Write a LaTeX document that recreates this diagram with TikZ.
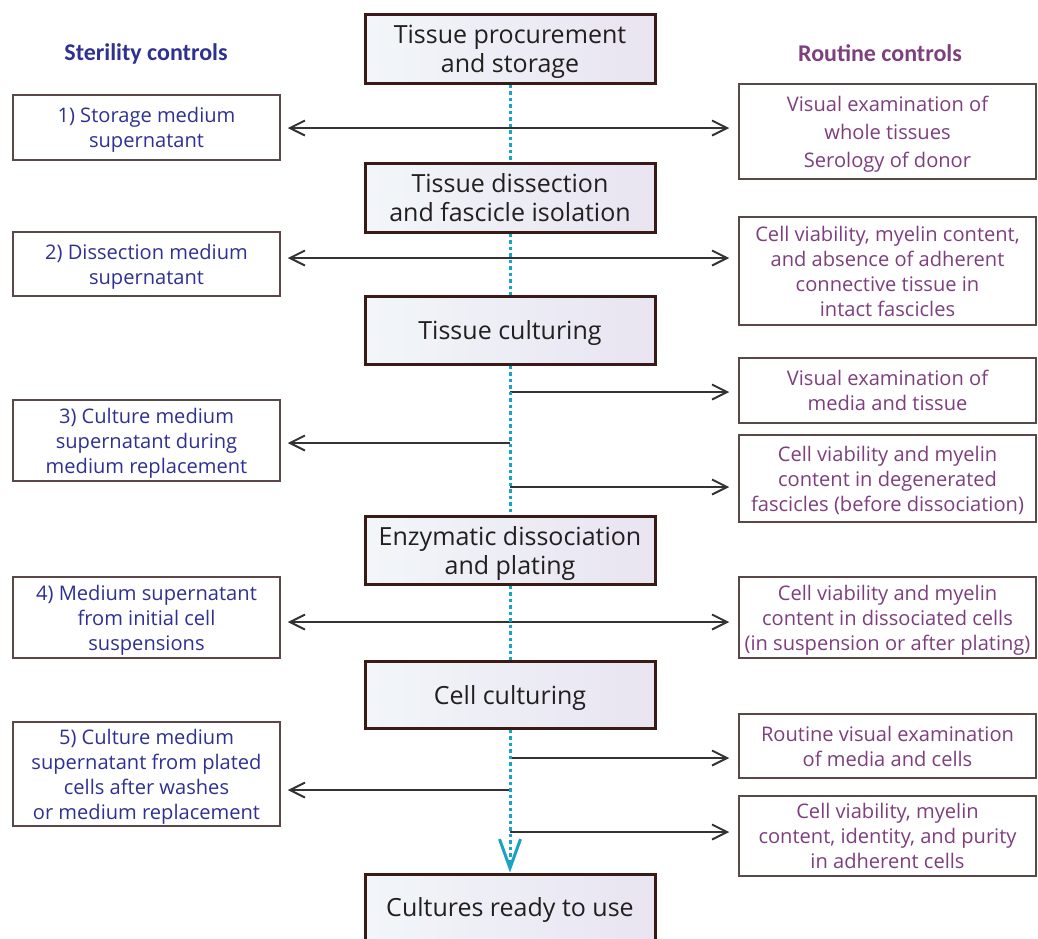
\documentclass[tikz,border=0pt]{standalone}
\usepackage{fontspec}
\setmainfont{Open Sans}
\newfontfamily\headfont{Carlito}
\usetikzlibrary{arrows.meta,positioning}
\definecolor{stageline}{HTML}{3A1A14}
\definecolor{stagetext}{HTML}{231F20}
\definecolor{boxline}{HTML}{5A4848}
\definecolor{sterblue}{HTML}{2E3192}
\definecolor{routpurple}{HTML}{7D3F7D}
\definecolor{arrowgray}{HTML}{333333}
\definecolor{spinecyan}{HTML}{1BA3C6}
\definecolor{shadeleft}{HTML}{F2F6F9}
\definecolor{shaderight}{HTML}{E8E4F1}
\tikzset{
  stagebox/.style={
    rectangle, draw=stageline, line width=3pt,
    left color=shadeleft, middle color=white, right color=shaderight,
    minimum width=290pt, inner sep=2pt, align=center, text depth=0pt,
    text=stagetext, font=\fontsize{25}{29}\selectfont
  },
  sterbox/.style={
    rectangle, draw=boxline, line width=1.5pt, fill=white,
    minimum width=267pt, inner sep=2pt, align=center, text depth=0pt,
    text=sterblue, font=\fontsize{20.1}{25}\selectfont
  },
  routbox/.style={sterbox, minimum width=297pt, text=routpurple},
  headlbl/.style={font=\headfont\bfseries\fontsize{24}{28}\selectfont},
  ctlarrow/.style={-{Straight Barb[length=15pt,width=15pt]}, line width=2pt,
    draw=arrowgray, shorten >=9pt},
  dblarrow/.style={ctlarrow, {Straight Barb[length=15pt,width=15pt]}-{Straight Barb[length=15pt,width=15pt]},
    shorten <=7pt},
  spine/.style={draw=spinecyan, line width=3pt, dash pattern=on 3.5pt off 3pt},
}
\begin{document}
\begin{tikzpicture}[x=1pt, y=-1pt]
  \useasboundingbox (0,0) rectangle (1038,938);

  % column headings
  \node (sterhead) [headlbl, text=sterblue] at (146,54) {Sterility controls};
  \node (routhead) [headlbl, text=routpurple] at (880,53) {Routine controls};

  % processing stages
  \node (proc) [stagebox, minimum height=69pt] at (510,48.5) {Tissue procurement\\and storage};
  \node (dissect) [stagebox, minimum height=69pt] at (510,197.5) {Tissue dissection\\and fascicle isolation};
  \node (tculture) [stagebox, minimum height=68pt] at (510,330) {Tissue culturing};
  \node (enzym) [stagebox, minimum height=68pt] at (510,550) {Enzymatic dissociation\\and plating};
  \node (cculture) [stagebox, minimum height=67pt] at (510,694.5) {Cell culturing};
  \node (ready) [stagebox, minimum height=66pt] at (510,907) {Cultures ready to use};

  % sterility controls
  \node (st1) [sterbox, minimum height=65pt] at (146.5,127.5) {1) Storage medium\\supernatant};
  \node (st2) [sterbox, minimum height=64pt] at (146.5,264) {2) Dissection medium\\supernatant};
  \node (st3) [sterbox, minimum height=81pt] at (146.5,440.5) {3) Culture medium\\supernatant during\\medium replacement};
  \node (st4) [sterbox, minimum height=81pt] at (146.5,617.5) {4) Medium supernatant\\from initial cell\\suspensions};
  \node (st5) [sterbox, minimum height=104pt] at (146.5,774) {5) Culture medium\\supernatant from plated\\cells after washes\\or medium replacement};

  % routine controls
  \node (rc1) [routbox, minimum height=95pt] at (887.5,131.5) {Visual examination of\\[3pt]whole tissues\\[3pt]Serology of donor};
  \node (rc2) [routbox, minimum height=108pt] at (887.5,271) {Cell viability, myelin content,\\and absence of adherent\\connective tissue in\\intact fascicles};
  \node (rc3) [routbox, minimum height=65pt] at (887.5,390.5) {Visual examination of\\media and tissue};
  \node (rc4) [routbox, minimum height=87pt] at (887.5,478.5) {Cell viability and myelin\\content in degenerated\\fascicles (before dissociation)};
  \node (rc5) [routbox, minimum height=81pt] at (887.5,617.5) {Cell viability and myelin\\content in dissociated cells\\(in suspension or after plating)};
  \node (rc6) [routbox, minimum height=64pt] at (887.5,746) {Routine visual examination\\of media and cells};
  \node (rc7) [routbox, minimum height=80pt] at (887.5,836) {Cell viability, myelin\\content, identity, and purity\\in adherent cells};

  % branch points on the spine
  \coordinate (j1) at (510,128);
  \coordinate (j2) at (510,258);
  \coordinate (j3a) at (510,392);
  \coordinate (j3b) at (510,443);
  \coordinate (j3c) at (510,487);
  \coordinate (j4) at (510,622);
  \coordinate (j5a) at (510,758);
  \coordinate (j5b) at (510,790);
  \coordinate (j5c) at (510,832);

  % control arrows
  \draw[dblarrow] (j1 -| st1.east) -- (j1 -| rc1.west);
  \draw[dblarrow] (j2 -| st2.east) -- (j2 -| rc2.west);
  \draw[ctlarrow] (j3a) -- (j3a -| rc3.west);
  \draw[ctlarrow, shorten >=7pt] (j3b) -- (j3b -| st3.east);
  \draw[ctlarrow] (j3c) -- (j3c -| rc4.west);
  \draw[dblarrow] (j4 -| st4.east) -- (j4 -| rc5.west);
  \draw[ctlarrow] (j5a) -- (j5a -| rc6.west);
  \draw[ctlarrow, shorten >=7pt] (j5b) -- (j5b -| st5.east);
  \draw[ctlarrow] (j5c) -- (j5c -| rc7.west);

  % process spine
  \draw[spine] (proc.south) -- (dissect.north);
  \draw[spine] (dissect.south) -- (tculture.north);
  \draw[spine] (tculture.south) -- (enzym.north);
  \draw[spine] (enzym.south) -- (cculture.north);
  \draw[spine, -{Straight Barb[length=29pt,width=21pt]}] (cculture.south) -- (ready.north);
\end{tikzpicture}
\end{document}
